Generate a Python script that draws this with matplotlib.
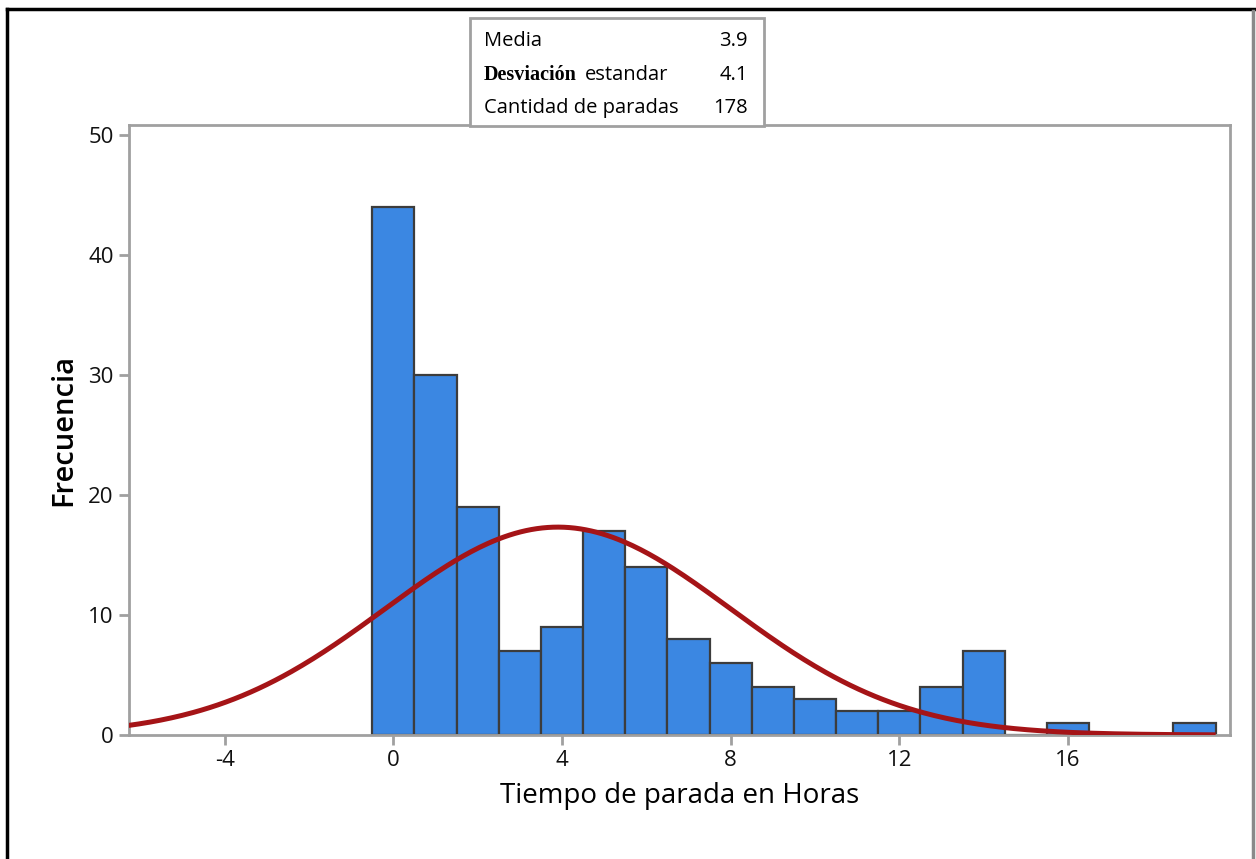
import numpy as np
import matplotlib.pyplot as plt
from matplotlib.lines import Line2D
from matplotlib.patches import Rectangle

plt.rcParams['font.family'] = ['Open Sans', 'DejaVu Sans']
plt.rcParams['axes.unicode_minus'] = False

# hours of downtime (bin centres) and number of stops in each bin
horas = [0, 1, 2, 3, 4, 5, 6, 7, 8, 9, 10, 11, 12, 13, 14, 15, 16, 17, 18, 19]
paradas = [44, 30, 19, 7, 9, 17, 14, 8, 6, 4, 3, 2, 2, 4, 7, 0, 1, 0, 0, 1]

media = 3.9
desviacion = 4.1
n_paradas = 178

fig = plt.figure(figsize=(12.56, 8.59), dpi=100)
ax = fig.add_axes([0.1027, 0.1444, 0.8766, 0.7101])

ax.bar(horas, paradas, width=1.0, color='#3b87e2', edgecolor='#3c3c3c',
       linewidth=1.6, zorder=2)

# fitted normal curve scaled to counts (bin width 1)
xs = np.linspace(-6.3, 19.5, 400)
ys = n_paradas * np.exp(-(xs - media) ** 2 / (2 * desviacion ** 2)) / (desviacion * np.sqrt(2 * np.pi))
ax.plot(xs, ys, color='#a51417', linewidth=3.6, zorder=3, solid_capstyle='butt')

ax.set_xlim(-6.27, 19.84)
ax.set_ylim(0, 50.83)
ax.set_xticks([-4, 0, 4, 8, 12, 16])
ax.set_yticks([0, 10, 20, 30, 40, 50])

for s in ax.spines.values():
    s.set_color('#a0a0a0')
    s.set_linewidth(2)
ax.tick_params(direction='out', length=7, width=2, color='#a0a0a0',
               labelsize=16, labelcolor='#111111', pad=4)

ax.set_xlabel('Tiempo de parada en Horas', fontsize=20, labelpad=8)
ax.set_ylabel('Frecuencia', fontsize=21, fontweight='semibold', labelpad=7)

# stats box above the plot
box = Rectangle((470 / 1256, 1 - 126 / 859), 294 / 1256, 108 / 859,
                transform=fig.transFigure, facecolor='white',
                edgecolor='#a0a0a0', linewidth=2)
fig.patches.append(box)
xl = 484 / 1256
xr = 748 / 1256
fs = 14.5
fig.text(xl, 1 - 41 / 859, 'Media', fontsize=fs, va='center')
fig.text(xr, 1 - 41 / 859, f'{media:.1f}', fontsize=fs, va='center', ha='right')
fig.text(xl, 1 - 75 / 859, 'Desviación', fontsize=14.5, va='center',
         family='Liberation Serif', fontweight='bold')
fig.text(585 / 1256, 1 - 75 / 859, 'estandar', fontsize=fs, va='center')
fig.text(xr, 1 - 75 / 859, f'{desviacion:.1f}', fontsize=fs, va='center', ha='right')
fig.text(xl, 1 - 108 / 859, 'Cantidad de paradas', fontsize=fs, va='center')
fig.text(xr, 1 - 108 / 859, str(n_paradas), fontsize=fs, va='center', ha='right')

# page border
fig.add_artist(Line2D([6.5 / 1256, 6.5 / 1256], [0, 1 - 9 / 859], color='black',
                      linewidth=2.5, transform=fig.transFigure))
fig.add_artist(Line2D([6.5 / 1256, 1], [1 - 9 / 859, 1 - 9 / 859], color='black',
                      linewidth=2.5, transform=fig.transFigure))
fig.add_artist(Line2D([1252.5 / 1256, 1252.5 / 1256], [0, 1 - 11 / 859], color='#8a8a8a',
                      linewidth=2.5, transform=fig.transFigure))

fig.savefig('out.png', dpi=100)
